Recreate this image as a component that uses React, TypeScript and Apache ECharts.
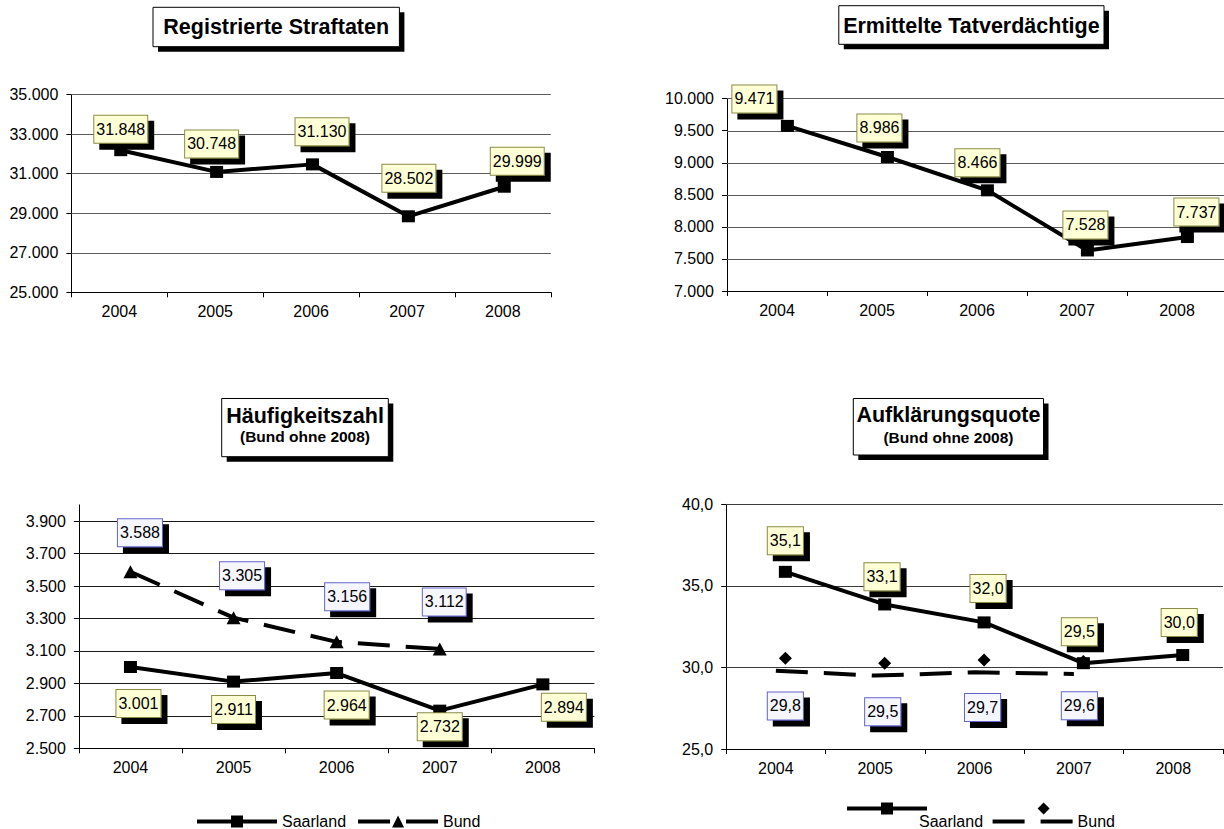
import React, { useEffect, useRef } from 'react';
import * as echarts from 'echarts';

// ---------- data ----------
const years = ['2004', '2005', '2006', '2007', '2008'];
const straftaten = [31848, 30748, 31130, 28502, 29999];
const tatverdaechtige = [9471, 8986, 8466, 7528, 7737];
const hzSaarland = [3001, 2911, 2964, 2732, 2894];
const hzBund = [3588, 3305, 3156, 3112, null];
const aqSaarland = [35.1, 33.1, 32.0, 29.5, 30.0];
const aqBund = [29.8, 29.5, 29.7, 29.6, null];

const ticksStraftaten = [25000, 27000, 29000, 31000, 33000, 35000];
const ticksTatverd = [7000, 7500, 8000, 8500, 9000, 9500, 10000];
const ticksHz = [2500, 2700, 2900, 3100, 3300, 3500, 3700, 3900];
const ticksAq = [25, 30, 35, 40];

const titleStraftaten = 'Registrierte Straftaten';
const titleTatverd = 'Ermittelte Tatverdächtige';
const titleHz = 'Häufigkeitszahl';
const titleAq = 'Aufklärungsquote';
const subtitleBund = '(Bund ohne 2008)';
const nameSaarland = 'Saarland';
const nameBund = 'Bund';

// ---------- layout (label offsets in px, kept apart from the data) ----------
const offStraftaten = [[0, -21], [-5, -28], [9.5, -32.5], [0.5, -38], [13, -25.5]];
const offTatverd = [[-33, -27], [-8, -29], [-10, -27.5], [-2, -25.5], [9, -25]];
const offHzSaar = [[8, 36.5], [0, 28], [10, 32], [0, 16], [21, 23]];
const offHzBund = [[9.5, -39], [8.5, -42], [10.5, -45], [4.5, -47]];
const offAqSaar = [[0, -31], [-2.7, -27.6], [4, -34], [-4, -31.4], [-3.5, -32.5]];
const offAqBund = [[0, 47.7], [-2, 48.6], [-1.5, 47.6], [-4, 44.3]];

const FONT = "'Liberation Sans', Arial, Helvetica, sans-serif";

const fmtThousand = (v: number) => String(Math.round(v)).replace(/\B(?=(\d{3})+(?!\d))/g, '.');
const fmtDecimal = (v: number) => Number(v).toFixed(1).replace('.', ',');

const panels = [
  { left: 71.4, top: 94.7, width: 479.4, height: 197.6, min: 25000, max: 35000, ticks: ticksStraftaten, fmt: fmtThousand, gridColor: '#5a5a5a', shift: [1.4, -6.8] },
  { left: 727, top: 98.7, width: 500, height: 192.3, min: 7000, max: 10000, ticks: ticksTatverd, fmt: fmtThousand, gridColor: '#5a5a5a', shift: [10.4, -6.7] },
  { left: 78.9, top: 504.9, width: 515.5, height: 243.4, min: 2500, max: 4000, ticks: ticksHz, fmt: fmtThousand, gridColor: '#1a1a1a', shift: [0, 0] },
  { left: 726.2, top: 504.3, width: 496.7, height: 244.7, min: 25, max: 40, ticks: ticksAq, fmt: fmtDecimal, gridColor: '#3a3a3a', shift: [9.5, -12.4] },
];

const titleBoxes = [
  { x: 153, y: 7.3, w: 246.4, h: 39.4, lines: [{ text: titleStraftaten, y: 27, size: 21.5 }] },
  { x: 838.8, y: 5.7, w: 265.2, h: 38.6, lines: [{ text: titleTatverd, y: 25.5, size: 21.5 }] },
  { x: 221.7, y: 398.5, w: 166.6, h: 58.2, lines: [{ text: titleHz, y: 415.5, size: 21.5 }, { text: subtitleBund, y: 436.5, size: 15.5 }] },
  { x: 853.3, y: 398.5, w: 190.2, h: 56.5, lines: [{ text: titleAq, y: 414.5, size: 21.5 }, { text: subtitleBund, y: 437, size: 15.5 }] },
];

const baseLabel = {
  show: true,
  position: 'inside',
  color: '#000',
  fontSize: 16,
  fontFamily: FONT,
  borderWidth: 1,
  padding: [5, 2, 4, 2],
  lineHeight: 18,
  shadowColor: '#000',
  shadowBlur: 0,
  shadowOffsetX: 6,
  shadowOffsetY: 6,
};
const yellowLabel = { ...baseLabel, backgroundColor: '#FFFFD6', borderColor: '#8A8A4A' };
const blueLabel = { ...baseLabel, backgroundColor: '#F6F6FF', borderColor: '#6464C8' };

const withOffsets = (vals: (number | null)[], offs: number[][]) =>
  vals.map((v, i) => (v == null ? null : { value: v, label: { offset: offs[i] } }));

function buildOption() {
  const grid: any[] = [];
  const xAxis: any[] = [];
  const yAxis: any[] = [];
  const series: any[] = [];

  panels.forEach((p, i) => {
    grid.push({ left: p.left, top: p.top, width: p.width, height: p.height, containLabel: false, outerBoundsMode: 'none' });
    grid.push({ left: p.left + p.shift[0], top: p.top + p.shift[1], width: p.width, height: p.height, containLabel: false, outerBoundsMode: 'none' });
    xAxis.push({
      type: 'category', gridIndex: 2 * i, data: years, boundaryGap: true,
      axisLine: { show: true, onZero: false, lineStyle: { color: '#000', width: 1 } },
      axisTick: { show: true, length: 5, alignWithLabel: false, lineStyle: { color: '#000', width: 1 } },
      axisLabel: { color: '#000', fontSize: 16, fontFamily: FONT, margin: 11, interval: 0 },
      splitLine: { show: false },
    });
    xAxis.push({ type: 'category', gridIndex: 2 * i + 1, data: years, boundaryGap: true, show: false });
    yAxis.push({
      type: 'value', gridIndex: 2 * i, min: p.min, max: p.max,
      splitLine: { show: false },
      axisLine: { show: true, onZero: false, lineStyle: { color: '#000', width: 1 } },
      axisTick: { show: true, length: 5, customValues: p.ticks, lineStyle: { color: '#000', width: 1 } },
      axisLabel: { show: true, customValues: p.ticks, formatter: (v: number) => p.fmt(v), color: '#000', fontSize: 16, fontFamily: FONT, margin: 13 },
    });
    yAxis.push({ type: 'value', gridIndex: 2 * i + 1, min: p.min, max: p.max, show: false, splitLine: { show: false } });

    // gridlines (drawn from the tick list through the value axis)
    series.push({
      type: 'line', name: '_grid' + i, xAxisIndex: 2 * i, yAxisIndex: 2 * i, data: [], silent: true, z: 1,
      markLine: {
        silent: true, symbol: ['none', 'none'], label: { show: false },
        lineStyle: { color: p.gridColor, width: 1, type: 'solid' },
        emphasis: { disabled: true },
        data: p.ticks.slice(1).map((v) => ({ yAxis: v })),
      },
    });
  });

  const saarStyle = {
    type: 'line', symbol: 'rect', symbolSize: [13, 12], showAllSymbol: true,
    lineStyle: { color: '#000', width: 4, join: 'round' },
    itemStyle: { color: '#000' },
    emphasis: { disabled: true }, z: 10, clip: false,
  };

  // Registrierte Straftaten
  series.push({
    ...saarStyle, name: nameSaarland, xAxisIndex: 1, yAxisIndex: 1,
    data: withOffsets(straftaten, offStraftaten),
    label: { ...yellowLabel, formatter: (pp: any) => fmtThousand(pp.value) },
  });
  // Ermittelte Tatverdächtige
  series.push({
    ...saarStyle, name: nameSaarland, xAxisIndex: 3, yAxisIndex: 3,
    data: withOffsets(tatverdaechtige, offTatverd),
    label: { ...yellowLabel, formatter: (pp: any) => fmtThousand(pp.value) },
  });
  // Häufigkeitszahl
  series.push({
    type: 'line', name: nameBund, xAxisIndex: 5, yAxisIndex: 5,
    data: withOffsets(hzBund, offHzBund),
    symbol: 'triangle', symbolSize: [14, 13],
    lineStyle: { color: '#000', width: 4, type: [32, 16], cap: 'butt' },
    itemStyle: { color: '#000' },
    label: { ...blueLabel, formatter: (pp: any) => fmtThousand(pp.value) },
    emphasis: { disabled: true }, z: 9, clip: false,
  });
  series.push({
    ...saarStyle, name: nameSaarland, xAxisIndex: 5, yAxisIndex: 5,
    data: withOffsets(hzSaarland, offHzSaar),
    label: { ...yellowLabel, formatter: (pp: any) => fmtThousand(pp.value) },
  });
  // Aufklärungsquote
  series.push({
    type: 'line', name: 'Bund (AQ)', xAxisIndex: 6, yAxisIndex: 6,
    data: aqBund, symbol: 'none',
    lineStyle: { color: '#000', width: 4, type: [32, 16], cap: 'butt' },
    itemStyle: { color: '#000' },
    emphasis: { disabled: true }, z: 8, clip: false,
  });
  series.push({
    type: 'line', name: 'BundMarker', xAxisIndex: 7, yAxisIndex: 7,
    data: withOffsets(aqBund, offAqBund),
    symbol: 'diamond', symbolSize: 13,
    lineStyle: { color: '#000', width: 0, opacity: 0 },
    itemStyle: { color: '#000' },
    label: { ...blueLabel, formatter: (pp: any) => fmtDecimal(pp.value) },
    emphasis: { disabled: true }, z: 9, clip: false,
  });
  series.push({
    ...saarStyle, name: nameSaarland, xAxisIndex: 7, yAxisIndex: 7,
    data: withOffsets(aqSaarland, offAqSaar),
    label: { ...yellowLabel, formatter: (pp: any) => fmtDecimal(pp.value) },
  });

  const legendBase = {
    orient: 'horizontal', padding: 0, itemHeight: 15, itemWidth: 80, selectedMode: false,
    lineStyle: { width: 4 },
    textStyle: { color: '#000', fontSize: 16, fontFamily: FONT },
  };
  const legend = [
    { ...legendBase, left: 195, top: 813.5, itemGap: 10, data: [nameSaarland, nameBund] },
    { ...legendBase, left: 832, top: 813.5, data: [{ name: nameSaarland, itemStyle: { opacity: 0 }, lineStyle: { opacity: 0 } }] },
    { ...legendBase, left: 990.6, top: 813.5, data: [{ name: 'Bund (AQ)', itemStyle: { opacity: 0 } }], formatter: () => nameBund },
    { ...legendBase, left: 845, top: 801, data: [nameSaarland], formatter: () => '' },
    { ...legendBase, left: 1001.6, top: 801, data: [{ name: 'BundMarker', lineStyle: { opacity: 0 } }], formatter: () => '' },
  ];

  const graphic: any[] = [];
  titleBoxes.forEach((b) => {
    graphic.push({ type: 'rect', silent: true, shape: { x: b.x + 5, y: b.y + 5, width: b.w, height: b.h }, style: { fill: '#000' } });
    graphic.push({ type: 'rect', silent: true, shape: { x: b.x, y: b.y, width: b.w, height: b.h }, style: { fill: '#fff', stroke: '#000', lineWidth: 1 } });
    b.lines.forEach((l) => {
      graphic.push({
        type: 'text', silent: true, x: b.x + b.w / 2, y: l.y,
        style: { text: l.text, fill: '#000', fontSize: l.size, fontWeight: 'bold', fontFamily: FONT, align: 'center', verticalAlign: 'middle' },
      });
    });
  });

  return {
    animation: false,
    backgroundColor: '#fff',
    textStyle: { fontFamily: FONT },
    grid, xAxis, yAxis, series, legend, graphic,
  };
}

export default function App() {
  const ref = useRef<HTMLDivElement>(null);
  useEffect(() => {
    document.body.style.margin = '0';
    const chart = echarts.init(ref.current as HTMLDivElement, null, { renderer: 'svg' });
    chart.setOption(buildOption() as any);
    return () => chart.dispose();
  }, []);
  return <div ref={ref} style={{ position: 'absolute', left: 0, top: 0, width: 1224, height: 829 }} />;
}
